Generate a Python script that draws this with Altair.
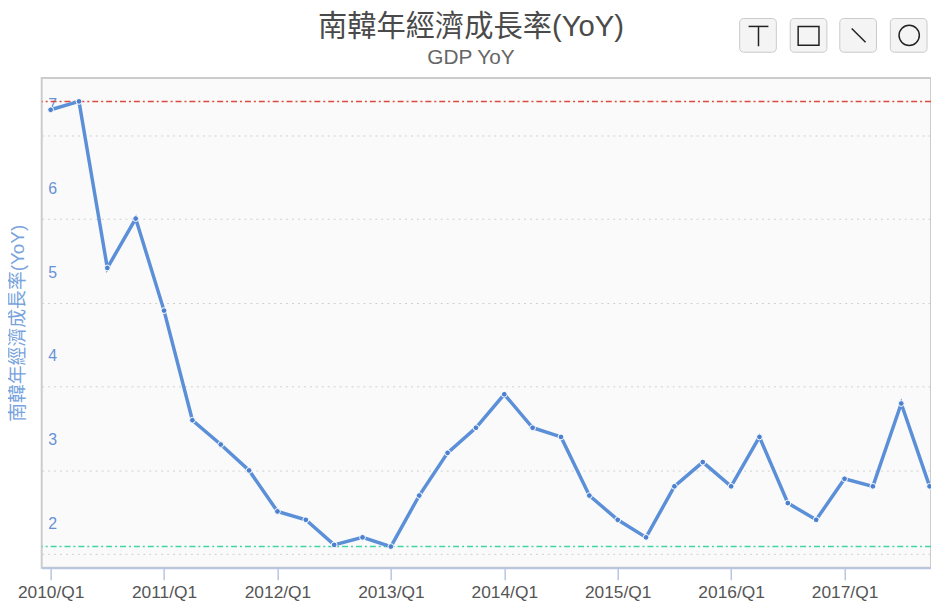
import altair as alt
import pandas as pd

quarters = [
    "2010/Q1", "2010/Q2", "2010/Q3", "2010/Q4",
    "2011/Q1", "2011/Q2", "2011/Q3", "2011/Q4",
    "2012/Q1", "2012/Q2", "2012/Q3", "2012/Q4",
    "2013/Q1", "2013/Q2", "2013/Q3", "2013/Q4",
    "2014/Q1", "2014/Q2", "2014/Q3", "2014/Q4",
    "2015/Q1", "2015/Q2", "2015/Q3", "2015/Q4",
    "2016/Q1", "2016/Q2", "2016/Q3", "2016/Q4",
    "2017/Q1", "2017/Q2", "2017/Q3", "2017/Q4",
]
gdp_yoy = [
    6.94, 7.04, 5.05, 5.64,
    4.54, 3.23, 2.94, 2.63,
    2.14, 2.04, 1.74, 1.83,
    1.72, 2.33, 2.84, 3.14,
    3.54, 3.14, 3.03, 2.33,
    2.04, 1.83, 2.44, 2.73,
    2.44, 3.03, 2.24, 2.04,
    2.53, 2.44, 3.43, 2.44,
]
x_tick_labels = ["2010/Q1", "2011/Q1", "2012/Q1", "2013/Q1",
                 "2014/Q1", "2015/Q1", "2016/Q1", "2017/Q1"]
x_tick_index = [0, 4, 8, 12, 16, 20, 24, 28]
y_ticks = [2, 3, 4, 5, 6, 7]

df = pd.DataFrame({"quarter": quarters,
                   "idx": list(range(len(quarters))),
                   "yoy": gdp_yoy})
dummy = pd.DataFrame({"a": [0]})

FONT = "Liberation Sans, Noto Sans CJK TC, sans-serif"
TITLE = "南韓年經濟成長率(YoY)"
SUBTITLE = "GDP YoY"

xscale = alt.Scale(domain=[-0.315, 31.05], nice=False, zero=False)
yscale = alt.Scale(domain=[1.467, 7.32], nice=False, zero=False)

label_expr = "[" + ",".join(f"'{l}'" for l in x_tick_labels) + "][round(datum.value/4)]"

x_axis = alt.Axis(values=x_tick_index, labelExpr=label_expr, title=None, grid=False,
                  domainColor="#b9c6e0", domainWidth=2, tickColor="#b9c6e0",
                  tickSize=12, tickWidth=1.5, labelColor="#555555", labelFontSize=17.5,
                  labelFont=FONT, labelPadding=4, labelFlush=False)
y_axis = alt.Axis(values=y_ticks, title=TITLE, titleFont=FONT, titleFontSize=19,
                  titleColor="#78a3dc", titleFontWeight="normal", titleX=-24,
                  titleBaseline="middle",
                  labelAlign="left", labelPadding=-6, labelColor="#6892d6",
                  labelFontSize=16, labelFont=FONT, ticks=False, domain=False,
                  grid=True, gridColor="#cfcfcf", gridDash=[2, 4], gridWidth=1,
                  tickOffset=31, labelOffset=-31)

base = alt.Chart(df)

max_rule = base.mark_rule(color="#dc4a3f", strokeDash=[6, 3, 2, 3], strokeWidth=1.5).encode(
    y=alt.Y("max(yoy):Q", scale=yscale, axis=y_axis)
)
min_rule = base.mark_rule(color="#3fd6a2", strokeDash=[6, 3, 2, 3], strokeWidth=1.5).encode(
    y=alt.Y("min(yoy):Q", scale=yscale, axis=y_axis)
)
line = base.mark_line(
    color="#5b8fd8", strokeWidth=3.5,
    point=alt.OverlayMarkDef(filled=True, fill="#4d81cf", size=34,
                             stroke="white", strokeWidth=1),
).encode(
    x=alt.X("idx:Q", scale=xscale, axis=x_axis),
    y=alt.Y("yoy:Q", scale=yscale, axis=y_axis),
)

layers = [max_rule, min_rule, line]

# title and subtitle as text marks (pixel positions relative to plot origin)
layers.append(alt.Chart(dummy).mark_text(
    text=TITLE, font=FONT, fontSize=29.5, color="#4a4a4a", align="center",
    baseline="middle").encode(x=alt.value(433), y=alt.value(-51)))
layers.append(alt.Chart(dummy).mark_text(
    text=SUBTITLE, font=FONT, fontSize=21, color="#666666", align="center",
    baseline="middle").encode(x=alt.value(433), y=alt.value(-20)))

# toolbox buttons (decoration)
for left in [704, 755, 805, 856]:
    layers.append(alt.Chart(dummy).mark_rect(cornerRadius=4, fill="#f4f4f4",
                                             stroke="#c9c9c9", strokeWidth=1).encode(
        x=alt.value(left), x2=alt.value(left + 37), y=alt.value(-60), y2=alt.value(-26)))
glyph = dict(color="#222222", strokeWidth=1.5)
layers.append(alt.Chart(dummy).mark_rule(**glyph).encode(
    x=alt.value(713), x2=alt.value(733), y=alt.value(-52)))
layers.append(alt.Chart(dummy).mark_rule(**glyph).encode(
    x=alt.value(723), y=alt.value(-52), y2=alt.value(-32)))
layers.append(alt.Chart(dummy).mark_rect(fill="transparent", stroke="#222222", strokeWidth=1.5).encode(
    x=alt.value(763), x2=alt.value(784), y=alt.value(-52), y2=alt.value(-33)))
layers.append(alt.Chart(dummy).mark_rule(**glyph).encode(
    x=alt.value(817), x2=alt.value(831), y=alt.value(-50), y2=alt.value(-36)))
layers.append(alt.Chart(dummy).mark_point(shape="circle", size=420, stroke="#222222",
                                          strokeWidth=1.5, filled=False, opacity=1).encode(
    x=alt.value(875), y=alt.value(-43)))

chart = alt.layer(*layers).properties(
    width=897, height=494,
    autosize=alt.AutoSizeParams(type="none"),
    padding={"left": 34, "top": 68, "right": 0, "bottom": 36},
).configure_view(
    fill="#fafafa", stroke="#cccccc", strokeWidth=2
)

chart.save("out.html", embed_options={"renderer": "svg", "actions": False})
